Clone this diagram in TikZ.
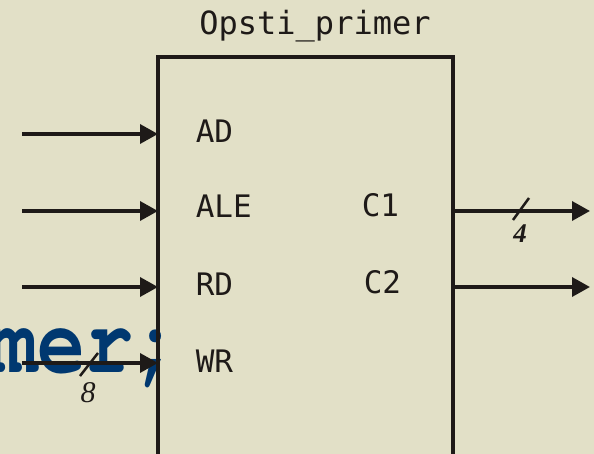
\documentclass[tikz,border=0pt]{standalone}
\usepackage{fontspec}
\setmonofont{DejaVu Sans Mono}
\newfontfamily\busfont{Liberation Serif}
\newcommand{\codefont}{\fontencoding{T1}\fontfamily{pcr}\bfseries}
\usetikzlibrary{arrows.meta}

\definecolor{bgbeige}{RGB}{226,224,199}
\definecolor{inkblack}{RGB}{30,26,24}
\definecolor{codeblue}{RGB}{0,56,112}

\tikzset{every picture/.style={line width=3.5pt}}
\tikzset{
  portlbl/.style={anchor=base west, inner sep=0pt, text=inkblack, font=\ttfamily\fontsize{31}{31}\selectfont},
  sigline/.style={draw=inkblack, line width=3.5pt, -{Triangle[length=18pt, width=19pt]}},
  busmark/.style={draw=inkblack, line width=2.5pt},
  buslbl/.style={inner sep=0pt, text=inkblack, font=\busfont\itshape\fontsize{30}{30}\selectfont}
}

\begin{document}
\begin{tikzpicture}[x=1pt,y=1pt,yscale=-1,xscale=1]
    %set diagram to 594 x 454
    \fill [bgbeige] (0,0) rectangle (594,454);
    \useasboundingbox (0,0) rectangle (594,454);

    % Text Node: code fragment behind the picture
    \node (code) [anchor=base west, inner sep=0pt, text=codeblue, font=\codefont\fontsize{80}{80}\selectfont] at (-12,372) {\scalebox{1}[1.22]{mer;}};

    %Shape: Rectangle (open at the bottom)
    \node (ent) [draw=inkblack, line width=4.5pt, outer sep=0pt, anchor=north west, minimum width=295pt, minimum height=430pt] at (158,57) {};

    % Text Node
    \node (title) [anchor=base, inner sep=0pt, text=inkblack, font=\ttfamily\fontsize{32}{32}\selectfont] at (315,35) {Opsti\_primer};

    % Text Node
    \node (lAD) [portlbl] at (194,143) {AD};
    % Text Node
    \node (lALE) [portlbl] at (194,218) {ALE};
    % Text Node
    \node (lRD) [portlbl] at (194,295) {RD};
    % Text Node
    \node (lWR) [portlbl] at (194,372) {WR};
    % Text Node
    \node (lCa) [portlbl] at (360,217) {C1};
    % Text Node
    \node (lCb) [portlbl] at (362,293) {C2};

    % free ends of the signals
    \coordinate (inAD) at (22,134);
    \coordinate (inALE) at (22,211);
    \coordinate (inRD) at (22,287);
    \coordinate (inWR) at (22,363);
    \coordinate (outCa) at (590,211);
    \coordinate (outCb) at (590,287);

    %Straight Lines [inputs]
    \draw [sigline] (inAD) -- (inAD -| ent.west);
    \draw [sigline] (inALE) -- (inALE -| ent.west);
    \draw [sigline] (inRD) -- (inRD -| ent.west);
    \draw [sigline] (inWR) -- (inWR -| ent.west);

    %Straight Lines [outputs]
    \draw [sigline] (outCa -| ent.east) -- (outCa);
    \draw [sigline] (outCb -| ent.east) -- (outCb);

    %Bus width marks
    \draw [busmark] (513,220) -- (529,198);
    \node (wCa) [buslbl, font=\busfont\bfseries\itshape\fontsize{27}{27}\selectfont] at (520,234) {4};
    \draw [busmark] (80,376) -- (98,353);
    \node (wWR) [buslbl] at (88,393) {8};

\end{tikzpicture}
\end{document}
